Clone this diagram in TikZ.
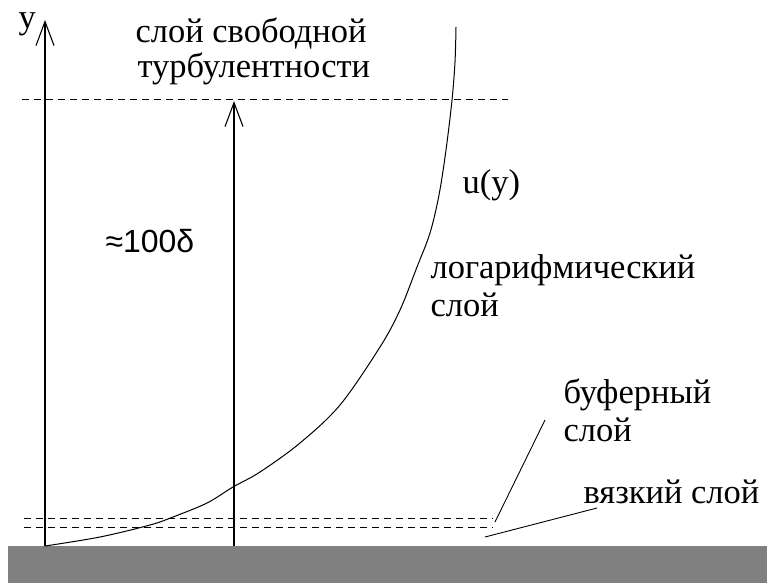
\documentclass[tikz,border=0pt]{standalone}
\usepackage{fontspec}
\setmainfont{Liberation Serif}
\newfontfamily\arialfont{Liberation Sans}
\usetikzlibrary{arrows.meta}

\begin{document}
\begin{tikzpicture}[
    x=1pt, y=-1pt,
    >={Straight Barb[length=24pt,width=18pt]},
    line width=1.1pt,
    lbl/.style={anchor=base west, inner sep=0pt, font=\fontsize{34.5}{40}\selectfont},
    level/.style={dash pattern=on 7pt off 5pt, line width=1pt},
    leader/.style={line width=0.9pt}
]
    \useasboundingbox (0,0) rectangle (767,583);

    % ground
    \fill[fill={rgb,255:red,128;green,128;blue,128}] (8,546) rectangle (767,583);

    % points on the wall and the axis tips
    \coordinate (o) at (45,546);
    \coordinate (ytip) at (45,20);
    \coordinate (d0) at (234,546);
    \coordinate (dtip) at (234,101);

    % level lines
    \coordinate (top-l) at (22,100);
    \coordinate (top-r) at (508,100);
    \coordinate (buf-l) at (24,518);
    \coordinate (buf-r) at (493,518);
    \coordinate (vis-l) at (24,527);
    \coordinate (vis-r) at (493,527);
    \draw[level] (top-l) -- (top-r);
    \draw[level] (buf-l) -- (buf-r);
    \draw[level] (vis-l) -- (vis-r);

    % axes
    \draw[->] (o) -- (ytip);
    \draw[->] (d0) -- (dtip);

    % velocity profile
    \draw[line width=1pt] plot[smooth, tension=0.55] coordinates {
        (45,546) (100,537) (150,525) (173,517) (207,503) (233,487)
        (260,472) (300,443) (340,405) (380,347) (400,310) (417,267)
        (430,233) (439,195) (446,150) (452,100) (455,62) (456,27)};

    % labels
    \node[lbl] (ylab) at (18,29) {y};
    \node[lbl] (free1) at (135,43) {слой свободной};
    \node[lbl] (free2) at (137,78) {турбулентности};
    \node[lbl, font=\arialfont\fontsize{32}{38}\selectfont] (delta) at (105,252) {≈100δ};
    \node[lbl] (uy) at (462,193) {u(y)};
    \node[lbl] (log1) at (430,278) {логарифмический};
    \node[lbl] (log2) at (430,316) {слой};
    \node[lbl] (buf1) at (563,403) {буферный};
    \node[lbl] (buf2) at (563,441) {слой};
    \node[lbl] (vis) at (583,503) {вязкий слой};

    % leaders
    \coordinate (bufA) at (545,420);
    \coordinate (bufB) at (495,522);
    \coordinate (visA) at (597,508);
    \coordinate (visB) at (485,537);
    \draw[leader] (bufA) -- (bufB);
    \draw[leader] (visA) -- (visB);
\end{tikzpicture}
\end{document}
